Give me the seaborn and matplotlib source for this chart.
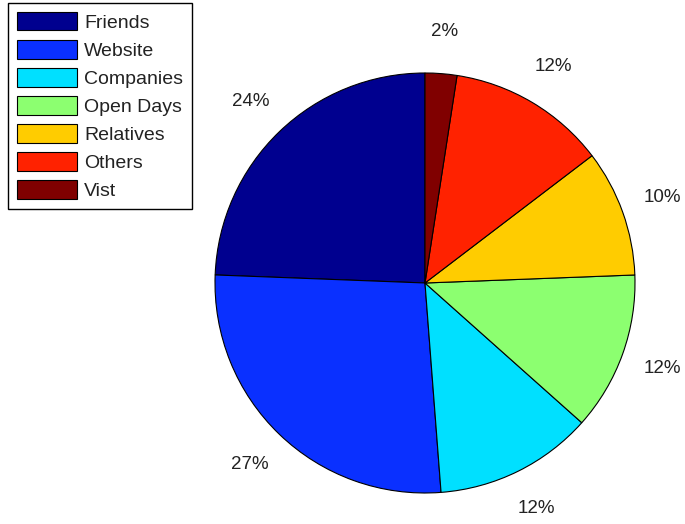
import matplotlib
matplotlib.use("Agg")
import matplotlib.pyplot as plt
import seaborn as sns
from matplotlib.patches import Patch

sns.set_theme(style="white")
plt.rcParams['font.family'] = ['Liberation Sans', 'DejaVu Sans']

categories = ["Friends", "Website", "Companies", "Open Days", "Relatives", "Others", "Vist"]
counts = [10, 11, 5, 5, 4, 5, 1]
colors = ["#00008F", "#0A30FF", "#00E0FF", "#8CFF70", "#FFCC00", "#FF2200", "#800000"]

fig = plt.figure(figsize=(6.85, 5.24), dpi=100)
ax = fig.add_axes([0, 0, 1, 1])

total = sum(counts)
wedges, texts = ax.pie(
    counts, colors=colors, startangle=90, counterclock=True,
    radius=1.0, center=(0, 0),
    labels=[f"{round(100 * c / total)}%" for c in counts],
    labeldistance=1.2,
    wedgeprops=dict(edgecolor="black", linewidth=0.8),
    textprops=dict(fontsize=13.5, color="#222222", ha="center", va="center"),
)
for t in texts:
    t.set_ha("center")
    t.set_va("center")

r_px = 210.0
ax.set_xlim(-425 / r_px, (685 - 425) / r_px)
ax.set_ylim(-(524 - 283) / r_px, 283 / r_px)
ax.set_aspect("auto")
ax.axis("off")

handles = [Patch(facecolor=c, edgecolor="black", linewidth=0.8) for c in colors]
leg = fig.legend(
    handles, categories, loc="upper left",
    bbox_to_anchor=(8 / 685, 1 - 3 / 524), bbox_transform=fig.transFigure,
    borderaxespad=0, fontsize=14, frameon=True, fancybox=False,
    edgecolor="black", framealpha=1, handlelength=3.1, handleheight=1.1,
    labelspacing=0.42, handletextpad=0.36, borderpad=0.45,
)
leg.get_frame().set_linewidth(1.0)
for t in leg.get_texts():
    t.set_color("#222222")

fig.savefig("out.png", dpi=100, facecolor="white")
